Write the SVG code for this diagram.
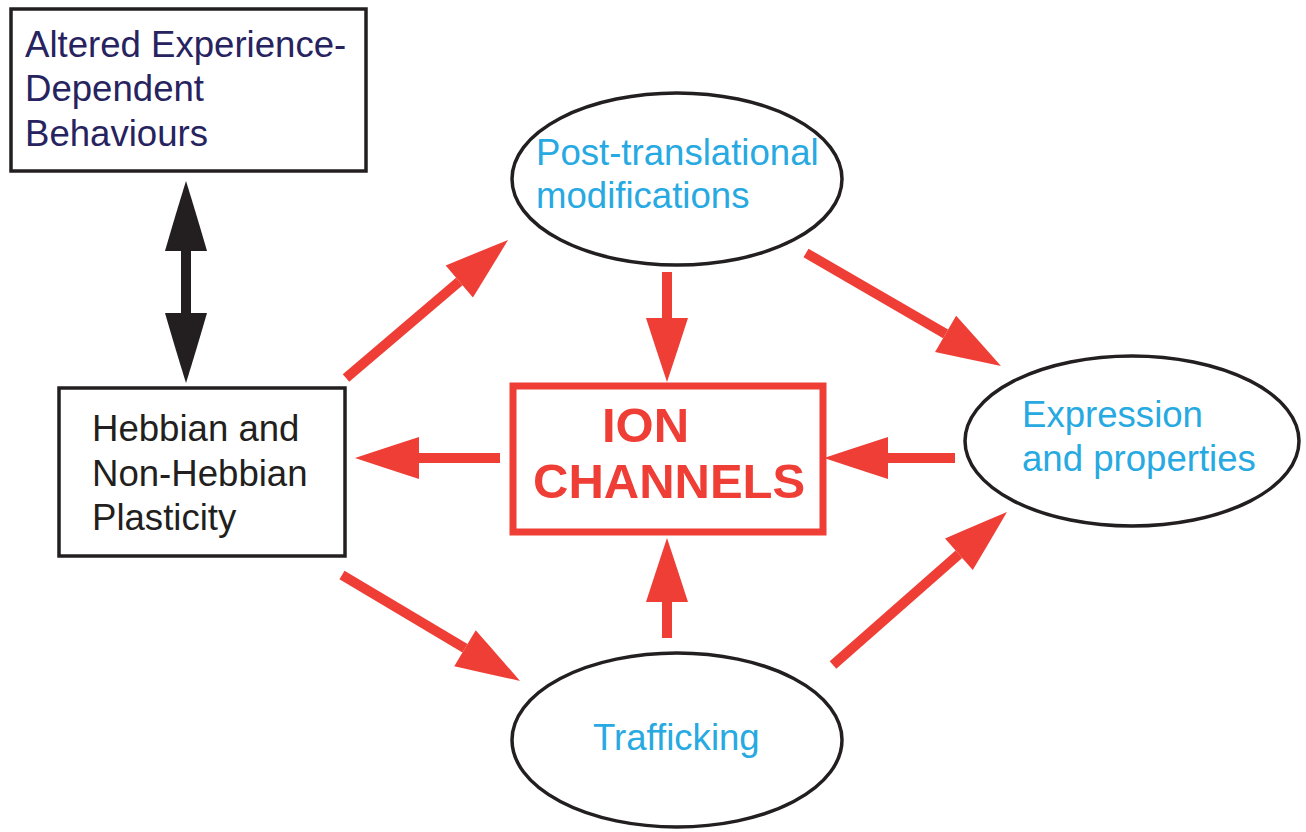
<svg xmlns="http://www.w3.org/2000/svg" width="1306" height="832" viewBox="0 0 1306 832">
  <style>
    .box { fill: #ffffff; stroke: #231f20; stroke-width: 3.5; }
    .oval { fill: #ffffff; stroke: #231f20; stroke-width: 3.5; }
    .core { fill: #ffffff; stroke: #ee3e36; stroke-width: 7; }
    .txt { font-family: "Liberation Sans", Arial, sans-serif; font-size: 36.6px; }
    .navy { fill: #27235f; }
    .black { fill: #231f20; }
    .blue { fill: #27a9e1; }
    .core-txt { font-family: "Liberation Sans", Arial, sans-serif; font-size: 49px; font-weight: bold; fill: #ee3e36; }
    .red-link { stroke: #ee3e36; stroke-width: 10; fill: none; marker-end: url(#head-red); }
    .black-link { stroke: #231f20; stroke-width: 10; fill: none; marker-start: url(#head-black-start); marker-end: url(#head-black); }
  </style>
  <defs>
    <!-- arrowheads start at the shaft end and extend forward -->
    <marker id="head-red" markerUnits="userSpaceOnUse" viewBox="0 -23 66 46" refX="0" refY="0" markerWidth="66" markerHeight="46" orient="auto" overflow="visible">
      <path d="M0,-21 Q34,-10 64,0 Q34,10 0,21 Z" fill="#ee3e36"/>
    </marker>
    <marker id="head-black" markerUnits="userSpaceOnUse" viewBox="0 -23 72 46" refX="0" refY="0" markerWidth="72" markerHeight="46" orient="auto" overflow="visible">
      <path d="M0,-21 Q38,-10 70,0 Q38,10 0,21 Z" fill="#231f20"/>
    </marker>
    <marker id="head-black-start" markerUnits="userSpaceOnUse" viewBox="-72 -23 72 46" refX="0" refY="0" markerWidth="72" markerHeight="46" orient="auto" overflow="visible">
      <path d="M0,-21 Q-38,-10 -70,0 Q-38,10 0,21 Z" fill="#231f20"/>
    </marker>
  </defs>

  <rect width="1306" height="832" fill="#ffffff"/>

  <g id="behaviours">
    <rect class="box" x="11" y="9" width="355" height="162"/>
    <text class="txt navy" x="25" y="57">Altered Experience-</text>
    <text class="txt navy" x="25" y="101">Dependent</text>
    <text class="txt navy" x="25" y="146">Behaviours</text>
  </g>

  <g id="plasticity">
    <rect class="box" x="59" y="388" width="286" height="168"/>
    <text class="txt black" x="92" y="441">Hebbian and</text>
    <text class="txt black" x="92" y="486">Non-Hebbian</text>
    <text class="txt black" x="92" y="530">Plasticity</text>
  </g>

  <g id="post-translational">
    <ellipse class="oval" cx="677" cy="179" rx="165" ry="86"/>
    <text class="txt blue" x="536" y="165">Post-translational</text>
    <text class="txt blue" x="536" y="208">modifications</text>
  </g>

  <g id="expression">
    <ellipse class="oval" cx="1132" cy="441" rx="167" ry="85"/>
    <text class="txt blue" x="1022" y="427">Expression</text>
    <text class="txt blue" x="1022" y="471">and properties</text>
  </g>

  <g id="trafficking">
    <ellipse class="oval" cx="677" cy="740" rx="165" ry="87"/>
    <text class="txt blue" x="593" y="750">Trafficking</text>
  </g>

  <g id="ion-channels">
    <rect class="core" x="513" y="386" width="310" height="146"/>
    <text class="core-txt" x="602" y="442">ION</text>
    <text class="core-txt" x="533" y="498">CHANNELS</text>
  </g>

  <g id="connectors">
    <line class="black-link" x1="186" y1="251" x2="186" y2="313"/>
    <line class="red-link" x1="346" y1="378" x2="459.3" y2="281.5"/>
    <line class="red-link" x1="667" y1="272" x2="667" y2="318"/>
    <line class="red-link" x1="806" y1="253" x2="945.6" y2="333.9"/>
    <line class="red-link" x1="500" y1="458" x2="419" y2="458"/>
    <line class="red-link" x1="955" y1="458" x2="888" y2="458"/>
    <line class="red-link" x1="342" y1="575" x2="465" y2="648.2"/>
    <line class="red-link" x1="667" y1="638" x2="667" y2="602"/>
    <line class="red-link" x1="833" y1="665" x2="958.9" y2="554.3"/>
  </g>
</svg>
